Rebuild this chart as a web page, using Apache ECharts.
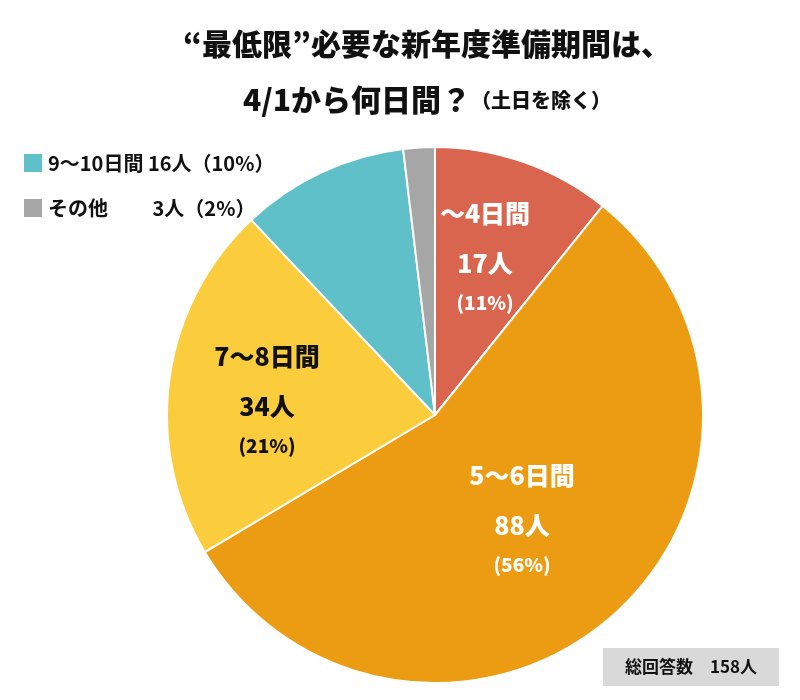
<!DOCTYPE html>
<html>
<head>
<meta charset="utf-8">
<script src="https://cdn.jsdelivr.net/npm/echarts@6/dist/echarts.min.js"></script>
<style>
  html, body { margin: 0; padding: 0; background: #fff; }
  #chart { width: 800px; height: 700px; }
</style>
</head>
<body>
<div id="chart"></div>
<script>
// 回答データ
const categories = ['～4日間', '5～6日間', '7～8日間', '9～10日間', 'その他'];
const counts = [17, 88, 34, 16, 3];
const percents = [11, 56, 21, 10, 2];
const colors = ['#D9654F', '#EB9C12', '#FBCD3D', '#5FC0C9', '#A6A6A6'];
const total = 158;

const FONT = '"Noto Sans CJK JP", "Noto Sans", sans-serif';

// スライス内のラベル（中央揃え）
const inLabels = [
  {i: 0, x: 485, y: 213, color: '#fff'},
  {i: 2, x: 267, y: 356, color: '#111'},
  {i: 1, x: 522, y: 475, color: '#fff'}
];

const graphics = [];
inLabels.forEach(l => {
  const lines = [
    {t: categories[l.i], dy: 0, size: 25},
    {t: counts[l.i] + '人', dy: 50, size: 25},
    {t: '(' + percents[l.i] + '%)', dy: 90, size: 19}
  ];
  lines.forEach(ln => {
    graphics.push({
      type: 'text', x: l.x, y: l.y + ln.dy, z: 100,
      style: {
        text: ln.t, fill: l.color, font: '900 ' + ln.size + 'px ' + FONT,
        align: 'center', verticalAlign: 'middle'
      }
    });
  });
});

// 総回答数ボックス
graphics.push({
  type: 'rect', z: 100, shape: {x: 603, y: 648, width: 176, height: 38},
  style: {fill: '#D9D9D9'}
});
graphics.push({
  type: 'text', x: 691, y: 667, z: 101,
  style: {
    text: '総回答数　' + total + '人', fill: '#111', font: 'bold 17px ' + FONT,
    align: 'center', verticalAlign: 'middle'
  }
});

const legendText = {
  '9～10日間': '9～10日間 16人（10%）',
  'その他': 'その他　　 3人（2%）'
};

const chart = echarts.init(document.getElementById('chart'));
chart.setOption({
  animation: false,
  title: {
    text: '“最低限”必要な新年度準備期間は、\n4/1から何日間？{s|（土日を除く）}',
    left: 422,
    top: 11,
    textAlign: 'center',
    textStyle: {
      fontFamily: FONT, fontWeight: 900, fontSize: 30, color: '#111', lineHeight: 56,
      rich: {s: {fontFamily: FONT, fontWeight: 900, fontSize: 20, color: '#111'}}
    }
  },
  legend: {
    orient: 'vertical', left: 22, top: 152, padding: 0,
    itemWidth: 20, itemHeight: 20, itemGap: 23,
    icon: 'rect',
    data: ['9～10日間', 'その他'],
    formatter: name => legendText[name],
    textStyle: {fontFamily: FONT, fontWeight: 'bold', fontSize: 20, color: '#111'}
  },
  graphic: graphics,
  series: [{
    type: 'pie',
    center: [435, 415],
    radius: 268,
    startAngle: 90,
    clockwise: true,
    label: {show: false},
    labelLine: {show: false},
    itemStyle: {borderColor: '#fff', borderWidth: 2},
    emphasis: {disabled: true},
    data: categories.map((c, i) => ({name: c, value: counts[i], itemStyle: {color: colors[i]}}))
  }]
});
</script>
</body>
</html>
